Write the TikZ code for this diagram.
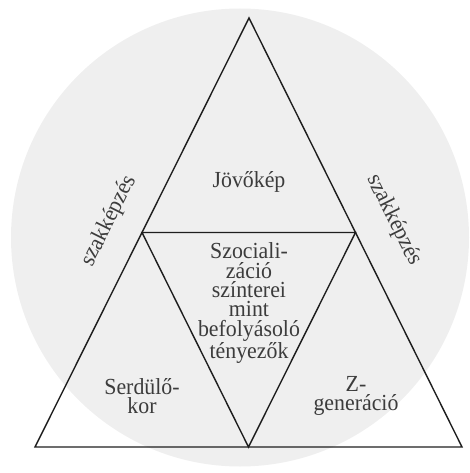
\documentclass[tikz,border=0pt]{standalone}
\usepackage{fontspec}
\setmainfont{Liberation Serif}
\newfontfamily\tallserif{Liberation Serif}[FakeStretch=0.95]
\usetikzlibrary{positioning,calc}
\definecolor{bggray}{RGB}{239,239,239}
\definecolor{linegray}{RGB}{30,30,30}
\definecolor{textgray}{RGB}{60,60,60}
\tikzstyle{edge} = [draw=linegray,line width=1.4pt,line join=miter]
\tikzstyle{label} = [inner sep=0,text=textgray,align=center,font=\tallserif\fontsize{23}{19.4}\selectfont]
\def \ang {63.5}

\begin{document}
\begin{tikzpicture}[x=1pt,y=-1pt]
      \useasboundingbox (0,0) rectangle (470,473);
      \fill[bggray] (240,237.5) circle (229pt);
      % outer triangle
      \coordinate (top) at (249,18);
      \coordinate (bl) at (35,447);
      \coordinate (br) at (462,447);
      % inner corners
      \coordinate (ml) at ($(top)!0.5!(bl)$);
      \coordinate (mr) at ($(top)!0.5!(br)$);
      \coordinate (mb) at ($(bl)!0.5!(br)$);
      \draw[edge] (top) -- (bl) -- (br) -- cycle;
      \draw[edge] (ml) -- (mr) -- (mb) -- cycle;
      \node[label,anchor=base] (jovo) at (249,187) {Jövőkép};
      \node[label] (szoc) at (249,303) {Szociali-\\záció\\színterei\\mint\\befolyásoló\\tényezők};
      \node[label] (serd) at (142,396) {Serdülő-\\kor};
      \node[label] (zgen) at (356,396) {Z-\\generáció};
      \node[label,rotate=\ang] (szakl) at (109,221) {szakképzés};
      \node[label,rotate=-\ang] (szakr) at (394,220) {szakképzés};
    \end{tikzpicture}
\end{document}
